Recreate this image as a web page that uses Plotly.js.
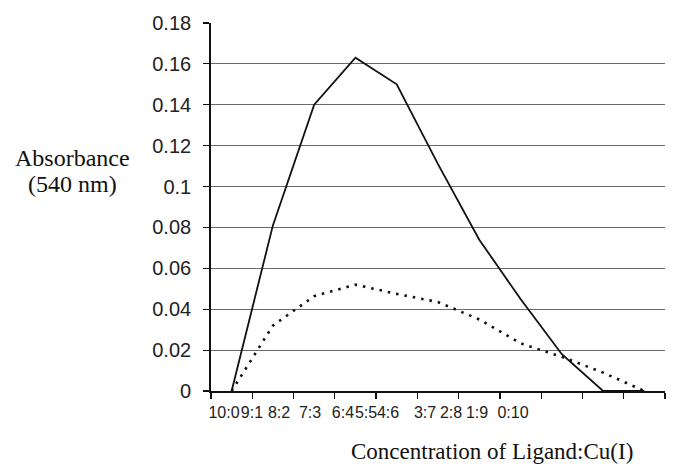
<!DOCTYPE html>
<html>
<head>
<meta charset="utf-8">
<script src="https://cdn.plot.ly/plotly-3.0.1.min.js"></script>
<style>
  html, body { margin: 0; padding: 0; background: #fff; }
  #chart { width: 675px; height: 466px; }
</style>
</head>
<body>
<div id="chart"></div>
<script>
// ---- data ----
var categories = ["10:0", "9:1", "8:2", "7:3", "6:4", "5:5", "4:6", "3:7", "2:8", "1:9", "0:10"];
var solidSeries = [0, 0.081, 0.140, 0.163, 0.150, 0.111, 0.074, 0.045, 0.018, 0, 0];
var dottedSeries = [0, 0.032, 0.0464, 0.052, 0.0475, 0.0435, 0.035, 0.0233, 0.0167, 0.009, 0];
var yTickValues = [0, 0.02, 0.04, 0.06, 0.08, 0.1, 0.12, 0.14, 0.16, 0.18];
var yTickLabels = ["0", "0.02", "0.04", "0.06", "0.08", "0.1", "0.12", "0.14", "0.16", "0.18"];

// ---- layout helpers (positions, not data) ----
var idx = categories.map(function (c, i) { return i; });
var boundaries = [];
for (var b = -0.5; b <= categories.length - 0.5 + 1e-9; b += 1) boundaries.push(b);
// the reference prints its category labels compressed to the left
var labelPos = [-0.185, 0.493, 1.148, 1.899, 2.698, 3.256, 3.789, 4.685, 5.315, 5.945, 6.818];

var traces = [
  {
    x: idx, y: solidSeries, type: 'scatter', mode: 'lines',
    xaxis: 'x', yaxis: 'y',
    line: { color: '#111', width: 1.8 },
    name: 'solid', hoverinfo: 'skip'
  },
  {
    x: idx, y: dottedSeries, type: 'scatter', mode: 'lines',
    xaxis: 'x2', yaxis: 'y',
    line: { color: '#111', width: 2.6, dash: '2.5px,6px' },
    name: 'dotted', hoverinfo: 'skip'
  }
];

var layout = {
  width: 675, height: 466,
  margin: { l: 211, r: 10, t: 23, b: 75 },
  paper_bgcolor: '#fff', plot_bgcolor: '#fff',
  showlegend: false,
  xaxis: {
    type: 'linear',
    range: [-0.5, categories.length - 0.5],
    tickmode: 'array', tickvals: boundaries, ticktext: boundaries.map(function () { return ''; }),
    ticks: 'outside', ticklen: 6, tickwidth: 1.2, tickcolor: '#111',
    showgrid: false, zeroline: false,
    showline: true, linecolor: '#111', linewidth: 1.5,
    fixedrange: true
  },
  xaxis2: {
    type: 'linear', overlaying: 'x', anchor: 'y', side: 'bottom',
    range: [-0.5, categories.length - 0.5],
    tickmode: 'array', tickvals: labelPos, ticktext: categories,
    tickangle: 0,
    ticks: '', showgrid: false, zeroline: false, showline: false,
    ticklabelstandoff: 10,
    tickfont: { family: 'Liberation Sans, Arial, sans-serif', size: 16, color: '#222' },
    fixedrange: true
  },
  yaxis: {
    range: [0, 0.18],
    tickmode: 'array', tickvals: yTickValues, ticktext: yTickLabels,
    ticks: 'outside', ticklen: 6, tickwidth: 1.2, tickcolor: '#111',
    ticklabelstandoff: 8,
    tickfont: { family: 'Liberation Sans, Arial, sans-serif', size: 20, color: '#222' },
    showgrid: true, gridcolor: '#6a6a6a', gridwidth: 1,
    zeroline: false,
    showline: true, linecolor: '#111', linewidth: 1.8,
    fixedrange: true
  },
  annotations: [
    {
      text: 'Absorbance', xref: 'paper', yref: 'paper',
      x: (72 - 211) / 454, y: (391 - 158) / 368, xanchor: 'center', yanchor: 'middle',
      showarrow: false,
      font: { family: 'Liberation Serif, Times New Roman, serif', size: 24, color: '#111' }
    },
    {
      text: '(540 nm)', xref: 'paper', yref: 'paper',
      x: (72 - 211) / 454, y: (391 - 184) / 368, xanchor: 'center', yanchor: 'middle',
      showarrow: false,
      font: { family: 'Liberation Serif, Times New Roman, serif', size: 24, color: '#111' }
    },
    {
      text: 'Concentration of Ligand:Cu(I)', xref: 'paper', yref: 'paper',
      x: (492 - 211) / 454, y: (391 - 452) / 368, xanchor: 'center', yanchor: 'middle',
      showarrow: false,
      font: { family: 'Liberation Serif, Times New Roman, serif', size: 23, color: '#111' }
    }
  ]
};

Plotly.newPlot('chart', traces, layout, { displayModeBar: false, staticPlot: true });
</script>
</body>
</html>
